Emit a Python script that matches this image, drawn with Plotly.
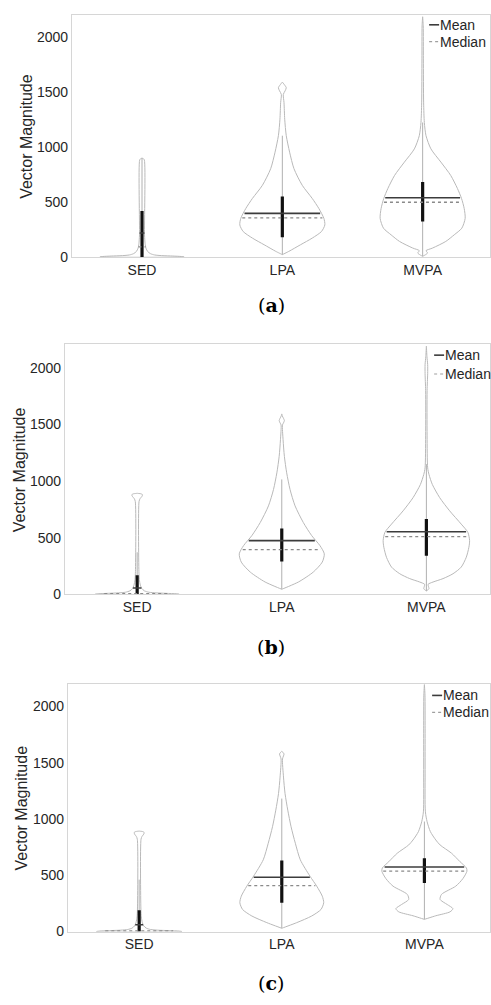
import numpy as np
import plotly.graph_objects as go

# ---------------- data ----------------
CATEGORIES = ["SED", "LPA", "MVPA"]
Y_TICKS = [0, 500, 1000, 1500, 2000]
PANEL_LABELS = ["a", "b", "c"]

# Violin outlines: value levels (Vector Magnitude) and half-widths (category units)
A_SED_Y = [0, 4, 8, 12, 18, 30, 50, 80, 120, 200, 880, 893, 898]
A_SED_W = [0.30, 0.28, 0.22, 0.14, 0.09, 0.06, 0.04, 0.028, 0.022, 0.018, 0.017, 0.010, 0.0]
A_LPA_Y = [21, 51, 111, 171, 231, 291, 351, 441, 532, 651, 802, 952, 1102, 1252, 1402, 1477, 1510, 1538, 1565, 1589]
A_LPA_W = [0.0, 0.047, 0.13, 0.213, 0.279, 0.303, 0.296, 0.26, 0.213, 0.142, 0.083, 0.052, 0.028, 0.017, 0.012, 0.007, 0.02, 0.028, 0.015, 0.0]
A_MVPA_Y = [6, 20, 36, 57, 81, 141, 201, 261, 351, 441, 532, 622, 741, 862, 982, 1102, 1222, 1400, 1800, 2100, 2183]
A_MVPA_W = [0.0, 0.02, 0.035, 0.024, 0.071, 0.165, 0.225, 0.279, 0.303, 0.296, 0.277, 0.248, 0.2, 0.13, 0.059, 0.024, 0.012, 0.007, 0.005, 0.004, 0.0]

B_SED_Y = [0, 4, 8, 12, 18, 30, 50, 80, 130, 200, 820, 845, 865, 880, 888, 892]
B_SED_W = [0.29, 0.27, 0.20, 0.13, 0.08, 0.05, 0.032, 0.022, 0.015, 0.012, 0.013, 0.02, 0.033, 0.037, 0.025, 0.0]
B_LPA_Y = [44, 108, 196, 284, 357, 430, 518, 634, 781, 927, 1073, 1219, 1366, 1497, 1515, 1535, 1555, 1575, 1594]
B_LPA_W = [0.0, 0.115, 0.218, 0.28, 0.294, 0.264, 0.207, 0.149, 0.092, 0.057, 0.034, 0.018, 0.009, 0.005, 0.012, 0.018, 0.012, 0.004, 0.0]
B_MVPA_Y = [29, 40, 50, 70, 88, 108, 138, 181, 240, 327, 415, 474, 547, 620, 737, 854, 971, 1059, 1117, 1400, 1800, 1950, 2030, 2100, 2193]
B_MVPA_W = [0.0, 0.012, 0.018, 0.014, 0.012, 0.046, 0.115, 0.184, 0.241, 0.276, 0.294, 0.299, 0.287, 0.241, 0.161, 0.092, 0.041, 0.018, 0.009, 0.005, 0.005, 0.009, 0.009, 0.004, 0.0]

C_SED_Y = [0, 4, 8, 12, 18, 30, 50, 80, 130, 200, 820, 845, 865, 880, 888, 892]
C_SED_W = [0.30, 0.28, 0.21, 0.13, 0.08, 0.05, 0.032, 0.022, 0.015, 0.012, 0.013, 0.02, 0.032, 0.035, 0.024, 0.0]
C_LPA_Y = [29, 79, 138, 196, 256, 314, 403, 491, 637, 784, 931, 1078, 1225, 1372, 1533, 1560, 1577, 1592, 1601]
C_LPA_W = [0.0, 0.105, 0.21, 0.275, 0.294, 0.284, 0.245, 0.198, 0.13, 0.095, 0.065, 0.042, 0.023, 0.012, 0.005, 0.012, 0.016, 0.008, 0.0]
C_MVPA_Y = [108, 140, 175, 203, 240, 285, 330, 403, 470, 535, 564, 620, 696, 769, 813, 887, 975, 1063, 1400, 1800, 2100, 2194]
C_MVPA_W = [0.0, 0.08, 0.18, 0.2, 0.16, 0.11, 0.12, 0.22, 0.27, 0.298, 0.295, 0.25, 0.19, 0.11, 0.08, 0.042, 0.019, 0.007, 0.005, 0.005, 0.004, 0.0]

# Summary statistics per category (SED, LPA, MVPA)
A_MEAN = [218, 396, 538]
A_MEDIAN = [92, 355, 497]
A_Q1 = [0, 178, 321]
A_Q3 = [417, 550, 682]
A_WLO = [0, 21, 6]
A_WHI = [898, 1102, 1222]

B_MEAN = [55, 474, 553]
B_MEDIAN = [6, 395, 509]
B_Q1 = [0, 289, 340]
B_Q3 = [167, 582, 664]
B_WLO = [0, 44, 29]
B_WHI = [371, 1015, 1150]

C_MEAN = [60, 482, 573]
C_MEDIAN = [6, 408, 537]
C_Q1 = [0, 256, 432]
C_Q3 = [188, 632, 650]
C_WLO = [0, 29, 108]
C_WHI = [461, 1181, 977]

# ---------------- styling / layout ----------------
W, H = 491, 1005
OUTLINE = "#b9b9b9"
MEAN_C = "#3c3c3c"
MEDIAN_C = "#8a8a8a"
TEXT_C = "#262626"
FRAME = "#d6d6d6"

panels = [
    dict(profiles=[(A_SED_Y, A_SED_W), (A_LPA_Y, A_LPA_W), (A_MVPA_Y, A_MVPA_W)],
         mean=A_MEAN, median=A_MEDIAN, q1=A_Q1, q3=A_Q3, wlo=A_WLO, whi=A_WHI,
         px=(72, 491), py=(15, 259), xr=(0.5, 3.48), yr=(0, 2200),
         ytitle_x=27, leg=(430, 25, 42), cap_y=307),
    dict(profiles=[(B_SED_Y, B_SED_W), (B_LPA_Y, B_LPA_W), (B_MVPA_Y, B_MVPA_W)],
         mean=B_MEAN, median=B_MEDIAN, q1=B_Q1, q3=B_Q3, wlo=B_WLO, whi=B_WHI,
         px=(65, 491), py=(347, 599), xr=(0.5, 3.44), yr=(0, 2210),
         ytitle_x=19, leg=(435, 358, 377), cap_y=652),
    dict(profiles=[(C_SED_Y, C_SED_W), (C_LPA_Y, C_LPA_W), (C_MVPA_Y, C_MVPA_W)],
         mean=C_MEAN, median=C_MEDIAN, q1=C_Q1, q3=C_Q3, wlo=C_WLO, whi=C_WHI,
         px=(68, 491), py=(689, 939), xr=(0.5, 3.46), yr=(0, 2203),
         ytitle_x=22, leg=(433, 701, 718), cap_y=991),
]

fig = go.Figure()
annotations = []
shapes = []
layout_axes = {}

for i, p in enumerate(panels):
    sfx = "" if i == 0 else str(i + 1)
    xa, ya = "x" + sfx, "y" + sfx
    for c, (yy, ww) in enumerate(p["profiles"]):
        pos = c + 1
        yy = np.asarray(yy, float)
        ww = np.asarray(ww, float)
        xs = np.concatenate([pos + ww, (pos - ww)[::-1], [pos + ww[0]]])
        ys = np.concatenate([yy, yy[::-1], [yy[0]]])
        fig.add_trace(go.Scatter(x=xs, y=ys, mode="lines", xaxis=xa, yaxis=ya,
                                 line=dict(color=OUTLINE, width=1, shape="spline", smoothing=0.7),
                                 hoverinfo="skip", showlegend=False))
        # whisker
        fig.add_trace(go.Scatter(x=[pos, pos], y=[p["wlo"][c], p["whi"][c]], mode="lines",
                                 xaxis=xa, yaxis=ya, line=dict(color="#b0b0b0", width=1),
                                 hoverinfo="skip", showlegend=False))
        # IQR bar
        fig.add_trace(go.Scatter(x=[pos, pos], y=[p["q1"][c], p["q3"][c]], mode="lines",
                                 xaxis=xa, yaxis=ya, line=dict(color="#111111", width=3.2),
                                 hoverinfo="skip", showlegend=False))
        # median
        hm = 0.97 * float(np.interp(p["median"][c], yy, ww))
        fig.add_trace(go.Scatter(x=[pos - hm, pos + hm], y=[p["median"][c]] * 2, mode="lines",
                                 xaxis=xa, yaxis=ya, line=dict(color=MEDIAN_C, width=1.3, dash="dot"),
                                 hoverinfo="skip", showlegend=False))
        # mean
        hmean = 0.97 * float(np.interp(p["mean"][c], yy, ww))
        fig.add_trace(go.Scatter(x=[pos - hmean, pos + hmean], y=[p["mean"][c]] * 2, mode="lines",
                                 xaxis=xa, yaxis=ya, line=dict(color=MEAN_C, width=1.6),
                                 hoverinfo="skip", showlegend=False))

    x0, x1 = p["px"]
    y0, y1 = p["py"]
    xdom = [x0 / W, x1 / W]
    ydom = [1 - y1 / H, 1 - y0 / H]
    layout_axes["xaxis" + sfx] = dict(
        domain=xdom, anchor=ya, range=list(p["xr"]), tickvals=[1, 2, 3], ticktext=CATEGORIES,
        showgrid=False, zeroline=False, showline=True, mirror=True, linecolor=FRAME, linewidth=1,
        ticks="", tickfont=dict(size=14, color=TEXT_C), fixedrange=True)
    layout_axes["yaxis" + sfx] = dict(
        domain=ydom, anchor=xa, range=list(p["yr"]), tickvals=Y_TICKS,
        showgrid=False, zeroline=False, showline=True, mirror=True, linecolor=FRAME, linewidth=1,
        ticks="", tickfont=dict(size=14, color=TEXT_C), fixedrange=True)

    # y-axis title
    annotations.append(dict(text="Vector Magnitude", textangle=-90, xref="paper", yref="paper",
                            x=p["ytitle_x"] / W, y=1 - (y0 + y1) / 2 / H, showarrow=False,
                            xanchor="center", yanchor="middle",
                            font=dict(size=16, color=TEXT_C)))
    # caption
    annotations.append(dict(text="(<b>%s</b>)" % PANEL_LABELS[i], xref="paper", yref="paper",
                            x=272 / W, y=1 - p["cap_y"] / H, showarrow=False,
                            xanchor="center", yanchor="middle",
                            font=dict(size=19, color="#000000", family="DejaVu Serif")))
    # legend
    lx, ly_mean, ly_med = p["leg"]
    shapes.append(dict(type="line", xref="paper", yref="paper", x0=lx / W, x1=(lx + 10) / W,
                       y0=1 - ly_mean / H, y1=1 - ly_mean / H, line=dict(color=MEAN_C, width=1.6)))
    shapes.append(dict(type="line", xref="paper", yref="paper", x0=lx / W, x1=(lx + 10) / W,
                       y0=1 - ly_med / H, y1=1 - ly_med / H,
                       line=dict(color="#a0a0a0", width=1.2, dash="dot")))
    annotations.append(dict(text="Mean", xref="paper", yref="paper", x=(lx + 9) / W,
                            y=1 - ly_mean / H, showarrow=False, xanchor="left", yanchor="middle",
                            font=dict(size=14, color=TEXT_C)))
    annotations.append(dict(text="Median", xref="paper", yref="paper", x=(lx + 9) / W,
                            y=1 - ly_med / H, showarrow=False, xanchor="left", yanchor="middle",
                            font=dict(size=14, color=TEXT_C)))

fig.update_layout(
    width=W, height=H, margin=dict(l=0, r=0, t=0, b=0),
    paper_bgcolor="white", plot_bgcolor="white",
    font=dict(family="Liberation Sans, Arial, Helvetica, sans-serif", color=TEXT_C),
    showlegend=False, annotations=annotations, shapes=shapes, **layout_axes)

fig.write_html("out.html",
               config={"displayModeBar": False, "staticPlot": True},
               post_script="document.body.style.margin='0';document.body.style.padding='0';"
                           "document.body.style.overflow='hidden';"
                           "document.documentElement.style.overflow='hidden';")
